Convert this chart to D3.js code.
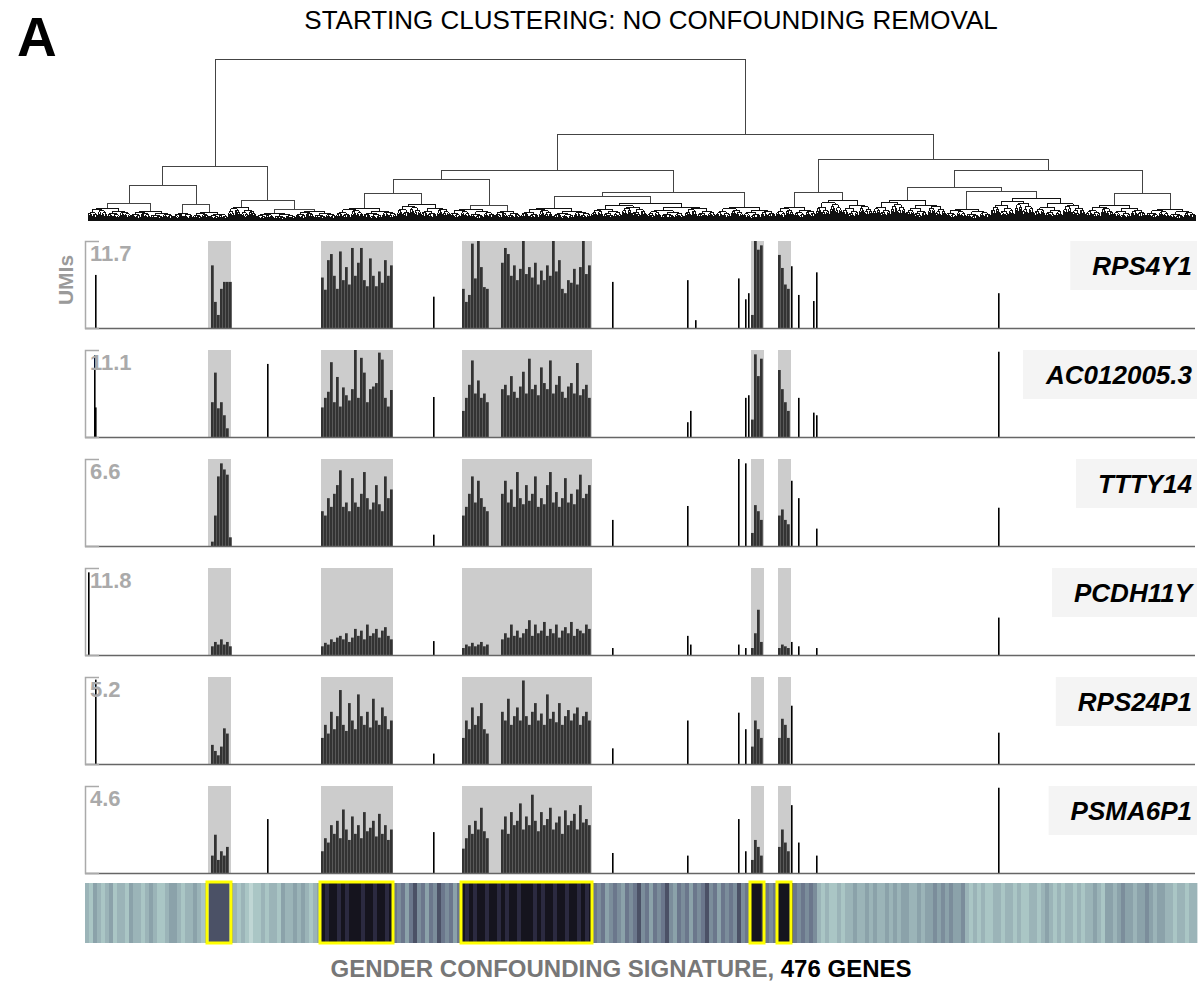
<!DOCTYPE html>
<html>
<head>
<meta charset="utf-8">
<script src="https://cdn.jsdelivr.net/npm/d3@7"></script>
<style>
  body { margin: 0; background: #fff; }
  svg { display: block; font-family: Arial, "Liberation Sans", Helvetica, sans-serif; }
</style>
</head>
<body>
<svg id="chart" width="1202" height="988"></svg>
<script>
// ---------------- data ----------------
const genes = ["RPS4Y1", "AC012005.3", "TTTY14", "PCDH11Y", "RPS24P1", "PSMA6P1"];
const maxUMI = [11.7, 11.1, 6.6, 11.8, 5.2, 4.6];

// cell ranges of the male-enriched clusters (cell index, start..end)
const regions = [[120, 143], [233, 305], [374, 504], [663, 676], [690, 703]];
const binSize = 3; // cells per dense bar

// dense bars inside each region, % of panel max
const rps4y1Dense = [
  [0, 72, 30, 15, 45, 53, 53, 53],
  [58, 44, 78, 85, 60, 45, 88, 55, 70, 50, 92, 60, 75, 92, 55, 48, 80, 60, 48, 65, 52, 78, 60, 72],
  [45, 30, 38, 97, 57, 100, 70, 47, 45, 0, 0, 0, 0, 75, 92, 85, 60, 72, 55, 68, 100, 62, 70, 58, 75, 50, 66, 55, 72, 60, 100, 65, 78, 45, 40, 55, 52, 68, 50, 70, 100, 62, 72],
  [15, 100, 90, 95, 0],
  [84, 69, 50, 45, 0]
];
const ac012005Dense = [
  [0, 40, 74, 33, 40, 25, 10, 0],
  [34, 45, 52, 86, 40, 69, 35, 57, 48, 42, 55, 100, 45, 91, 74, 40, 55, 58, 62, 97, 89, 45, 35, 54],
  [30, 45, 60, 88, 50, 65, 45, 50, 40, 0, 0, 0, 0, 55, 60, 48, 70, 52, 45, 58, 75, 50, 90, 55, 60, 48, 80, 62, 55, 88, 50, 60, 70, 52, 45, 58, 62, 50, 85, 48, 55, 60, 45],
  [20, 95, 70, 90, 0],
  [77, 55, 40, 30, 0]
];
const ttty14Dense = [
  [0, 5, 35, 80, 95, 88, 82, 10],
  [40, 35, 55, 45, 60, 70, 87, 45, 50, 40, 78, 50, 45, 60, 85, 55, 42, 50, 70, 48, 40, 80, 55, 65],
  [35, 45, 60, 80, 50, 75, 55, 45, 40, 0, 0, 0, 0, 60, 75, 50, 65, 45, 85, 55, 48, 70, 52, 60, 80, 45, 55, 48, 70, 85, 50, 62, 45, 55, 78, 50, 60, 48, 65, 82, 55, 60, 70],
  [15, 47, 40, 30, 0],
  [35, 42, 30, 25, 0]
];
const pcdh11yDense = [
  [0, 10, 15, 12, 18, 12, 15, 10],
  [10, 14, 12, 18, 15, 20, 22, 18, 25, 15, 20, 30, 22, 28, 18, 35, 22, 25, 30, 20, 28, 32, 22, 18],
  [8, 12, 10, 14, 10, 12, 15, 10, 12, 0, 0, 0, 0, 18, 25, 20, 35, 22, 28, 20, 25, 30, 40, 22, 35, 25, 28, 38, 22, 30, 25, 35, 20, 28, 32, 25, 38, 22, 30, 28, 25, 35, 30],
  [8, 25, 52, 15, 0],
  [8, 12, 10, 8, 0]
];
const rps24p1Dense = [
  [0, 22, 15, 10, 20, 41, 35, 0],
  [30, 45, 35, 60, 40, 55, 85, 45, 38, 70, 50, 40, 80, 55, 45, 60, 42, 75, 50, 45, 65, 55, 40, 50],
  [30, 50, 40, 65, 45, 55, 70, 40, 35, 0, 0, 0, 0, 60, 50, 75, 45, 55, 65, 50, 96, 55, 45, 60, 70, 50, 58, 45, 80, 52, 60, 48, 70, 45, 55, 62, 50, 58, 65, 45, 55, 60, 50],
  [20, 50, 40, 30, 0],
  [30, 52, 45, 30, 0]
];
const psma6p1Dense = [
  [0, 20, 44, 15, 25, 20, 30, 0],
  [25, 40, 35, 55, 45, 60, 40, 73, 50, 38, 65, 45, 55, 40, 70, 48, 52, 60, 42, 68, 45, 55, 38, 50],
  [28, 40, 55, 45, 60, 50, 75, 48, 40, 0, 0, 0, 0, 50, 65, 45, 70, 55, 60, 80, 50, 65, 55, 90, 60, 48, 70, 55, 62, 75, 50, 58, 65, 45, 72, 55, 60, 68, 50, 78, 58, 62, 55],
  [15, 38, 30, 20, 0],
  [30, 50, 35, 25, 0]
];

// isolated cells outside the clusters: [cell index, % of panel max]
const rps4y1Spikes = [[7, 61], [345, 36], [524, 53], [599, 55], [607, 9], [650, 57], [657, 33], [660, 40], [703, 71], [710, 38], [725, 31], [728, 64], [910, 40]];
const ac012005Spikes = [[6, 94], [7, 34], [179, 84], [345, 46], [599, 17], [602, 30], [657, 45], [660, 48], [710, 45], [725, 28], [728, 25], [910, 98]];
const ttty14Spikes = [[345, 13], [524, 30], [599, 46], [650, 100], [657, 95], [703, 75], [710, 55], [728, 20], [910, 44]];
const pcdh11ySpikes = [[0, 95], [345, 16], [524, 8], [599, 22], [602, 12], [650, 12], [657, 8], [703, 15], [710, 10], [728, 8], [910, 43]];
const rps24p1Spikes = [[7, 97], [345, 12], [524, 18], [599, 50], [650, 59], [657, 40], [703, 67], [910, 36]];
const psma6p1Spikes = [[179, 62], [345, 47], [524, 23], [599, 20], [650, 62], [657, 25], [703, 78], [710, 35], [728, 20], [910, 98]];

const denseByGene = [rps4y1Dense, ac012005Dense, ttty14Dense, pcdh11yDense, rps24p1Dense, psma6p1Dense];
const spikesByGene = [rps4y1Spikes, ac012005Spikes, ttty14Spikes, pcdh11ySpikes, rps24p1Spikes, psma6p1Spikes];

// signature score per 4-cell block (0 = low, 9 = high), starting at cell -3
const heatBlock = 4;
const heatScores = [
  3,2,4,3,2,3,4,2,3,3,2,4,3,3,2,3,4,3,2,2,3,4,4,3,2,3,3,4,3,2,
  4,7,7,7,7,7,5,
  3,2,3,2,1,2,2,3,2,3,3,2,4,3,3,4,3,4,3,2,3,4,
  9,8,9,9,8,9,8,9,9,9,8,9,9,8,9,9,8,9,
  6,5,6,4,6,7,5,6,4,6,5,7,6,5,6,4,6,
  9,8,9,8,9,9,8,9,9,8,9,8,9,9,8,9,9,9,8,9,8,9,9,8,9,9,8,9,9,8,9,8,9,
  6,5,6,4,5,6,5,4,6,5,6,7,5,6,4,6,5,6,7,5,4,6,5,6,4,6,5,6,7,5,6,4,6,5,6,5,7,5,6,
  9,9,9,8,
  6,5,6,
  9,9,9,8,
  6,5,6,5,6,5,
  3,2,3,2,2,3,2,3,3,
  4,3,3,4,3,4,3,3,4,3,4,3,4,4,3,3,4,3,4,4,
  5,4,5,4,5,4,4,5,
  3,2,3,2,3,2,2,3,3,2,3,3,2,3,2,2,3,3,2,3,4,3,2,3,2,3,3,2,3,2,3,3,4,3,2,
  4,4,3,4,5,4,4,3,4,4,5,4,3,4,4,
  3,3,2,3,3,2,3,3
];

// hierarchical clustering of the cells: internal nodes {h, c}, leaf groups {h, n}
const dendroTree = {h: 162, c: [
  {h: 55, c: [
    {h: 36, c: [
      {h: 18, c: [{h: 13, n: 43}, {h: 10, n: 43}]},
      {h: 17, c: [{h: 8, n: 19}, {h: 9, n: 35}]}
    ]},
    {h: 21, c: [
      {h: 14, n: 28},
      {h: 12, c: [{h: 8, n: 40}, {h: 10, n: 40}]}
    ]}
  ]},
  {h: 87, c: [
    {h: 51, c: [
      {h: 42, c: [
        {h: 28, c: [{h: 13, n: 61}, {h: 17, n: 53}]},
        {h: 16, c: [{h: 12, n: 45}, {h: 10, n: 26}]}
      ]},
      {h: 29, c: [
        {h: 25, c: [{h: 13, n: 70}, {h: 18, n: 125}]},
        {h: 14, n: 60}
      ]}
    ]},
    {h: 62, c: [
      {h: 29, c: [{h: 14, n: 40}, {h: 21, n: 57}]},
      {h: 51, c: [
        {h: 34, c: [
          {h: 21, n: 73},
          {h: 30, c: [{h: 12, n: 45}, {h: 23, n: 95}]}
        ]},
        {h: 28, c: [{h: 16, n: 60}, {h: 12, n: 50}]}
      ]}
    ]}
  ]}
]};
const nCells = 1108;

// ---------------- layout ----------------
const svg = d3.select("#chart");
const x = d3.scaleLinear().domain([-3, nCells - 1]).range([85, 1195]);

const panelTop0 = 241, panelStep = 109, panelH = 87;

// title and panel letter
svg.append("text").attr("x", 17).attr("y", 56)
  .attr("font-size", 55).attr("font-weight", "bold").text("A");
svg.append("text").attr("x", 651).attr("y", 29).attr("text-anchor", "middle")
  .attr("font-size", 26).text("STARTING CLUSTERING: NO CONFOUNDING REMOVAL");

// ---------------- dendrogram ----------------
const yD = d3.scaleLinear().domain([0, 162]).range([221, 59]);
const upperPath = d3.path();   // explicit merges
const lowerPath = d3.path();   // within-group merges
const splitRatios = [0.45, 0.55, 0.38, 0.6, 0.5, 0.42, 0.58];
const hFactors = [0.86, 0.76, 0.9, 0.8];

function link(p, node, kids) {
  const yn = yD(node.h);
  p.moveTo(x(kids[0].x), yn);
  p.lineTo(x(kids[1].x), yn);
  kids.forEach(k => { p.moveTo(x(k.x), yn); p.lineTo(x(k.x), yD(k.h)); });
}

function subdivide(start, n, h, depth) {
  if (n === 1) return {x: start, h: 0, end: start + 1};
  const nl = Math.max(1, Math.min(n - 1, Math.round(n * splitRatios[depth % splitRatios.length])));
  const a = subdivide(start, nl, h * hFactors[depth % hFactors.length], depth + 1);
  const b = subdivide(start + nl, n - nl, h * hFactors[(depth + 1) % hFactors.length], depth + 1);
  const node = {x: (a.x + b.x) / 2, h: h, end: start + n};
  link(lowerPath, node, [a, b]);
  return node;
}

function place(node, start) {
  if (node.n) return subdivide(start, node.n, node.h, 0);
  const a = place(node.c[0], start);
  const b = place(node.c[1], a.end);
  const res = {x: (a.x + b.x) / 2, h: node.h, end: b.end};
  link(upperPath, res, [a, b]);
  return res;
}
place(dendroTree, 0);
svg.append("path").attr("d", lowerPath.toString())
  .attr("fill", "none").attr("stroke", "#111").attr("stroke-width", 1)
  .attr("shape-rendering", "crispEdges");
svg.append("path").attr("d", upperPath.toString())
  .attr("fill", "none").attr("stroke", "#444").attr("stroke-width", 1)
  .attr("shape-rendering", "crispEdges");

// ---------------- expression panels ----------------
svg.append("text")
  .attr("transform", `translate(73,280) rotate(-90)`)
  .attr("text-anchor", "middle").attr("font-size", 21).attr("font-weight", "bold")
  .attr("fill", "#9a9a9a").text("UMIs");

genes.forEach((gene, gi) => {
  const top = panelTop0 + gi * panelStep;
  const base = top + panelH;
  const y = d3.scaleLinear().domain([0, 100]).range([base, top]);
  const g = svg.append("g");

  // highlighted clusters
  g.selectAll("rect.hl").data(regions).join("rect").attr("class", "hl")
    .attr("x", d => x(d[0])).attr("width", d => x(d[1]) - x(d[0]))
    .attr("y", top).attr("height", panelH).attr("fill", "#cccccc");

  // dense bars
  const bars = [];
  denseByGene[gi].forEach((vals, ri) => {
    vals.forEach((v, j) => bars.push({c: regions[ri][0] + j * binSize, v}));
  });
  g.selectAll("rect.bar").data(bars.filter(d => d.v > 0)).join("rect").attr("class", "bar")
    .attr("x", d => x(d.c)).attr("width", binSize - 0.25)
    .attr("y", d => y(d.v)).attr("height", d => base - y(d.v)).attr("fill", "#333");

  // isolated cells
  g.selectAll("rect.spk").data(spikesByGene[gi]).join("rect").attr("class", "spk")
    .attr("x", d => x(d[0])).attr("width", 1.6)
    .attr("y", d => y(d[1])).attr("height", d => base - y(d[1])).attr("fill", "#000");

  // baseline
  g.append("line").attr("x1", 85).attr("x2", 1195).attr("y1", base + 0.5).attr("y2", base + 0.5)
    .attr("stroke", "#666").attr("stroke-width", 1.5);

  // bracket axis
  const ax = g.append("g").attr("transform", "translate(85,0)")
    .call(d3.axisRight(y).tickValues([]).tickSizeOuter(14));
  ax.select(".domain").attr("stroke", "#aaa").attr("stroke-width", 1.5);

  g.append("text").attr("x", 90).attr("y", top + 20)
    .attr("font-size", 22).attr("font-weight", "bold").attr("fill", "#aaa")
    .text(maxUMI[gi]);

  // gene label
  const lbl = g.append("text").attr("x", 1192).attr("y", top + 34).attr("text-anchor", "end")
    .attr("font-size", 26).attr("font-weight", "bold").attr("font-style", "italic")
    .attr("fill", "#000").text(gene);
  const bb = lbl.node().getBBox();
  g.insert("rect", "text:last-of-type")
    .attr("x", bb.x - 22).attr("y", top).attr("width", 1197 - (bb.x - 22)).attr("height", 49)
    .attr("fill", "#f4f4f4");
  lbl.raise();
});

// ---------------- signature heat strip ----------------
const heatColor = d3.scaleLinear()
  .domain([0, 2, 4, 6, 8, 9])
  .range(["#d4e6e3", "#aac6c5", "#8ba2aa", "#6b778c", "#2b2a40", "#15141e"]);
const heatTop = 883, heatH = 60;
svg.append("g").selectAll("rect").data(heatScores).join("rect")
  .attr("x", (d, i) => x(-3 + i * heatBlock))
  .attr("width", x(heatBlock) - x(0) + 0.4)
  .attr("y", heatTop).attr("height", heatH)
  .attr("fill", d => heatColor(d));

svg.append("g").selectAll("rect").data(regions).join("rect")
  .attr("x", d => x(d[0]) - 1).attr("width", d => x(d[1]) - x(d[0]) + 1)
  .attr("y", heatTop - 1).attr("height", heatH + 1)
  .attr("fill", "none").attr("stroke", "#ffff00").attr("stroke-width", 3);

const foot = svg.append("text").attr("x", 621).attr("y", 977).attr("text-anchor", "middle")
  .attr("font-size", 24).attr("font-weight", "bold");
foot.append("tspan").attr("fill", "#777").text("GENDER CONFOUNDING SIGNATURE, ");
foot.append("tspan").attr("fill", "#000").text("476 GENES");
</script>
</body>
</html>
